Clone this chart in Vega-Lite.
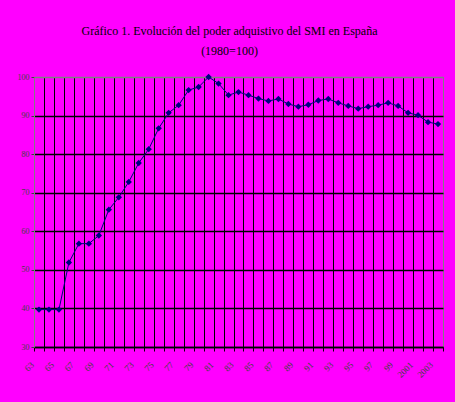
{
  "$schema": "https://vega.github.io/schema/vega-lite/v6.json",
  "width": 409,
  "height": 270,
  "autosize": "none",
  "padding": {"left": 34, "top": 77, "right": 12, "bottom": 55},
  "background": "#FF00FF",
  "title": {
    "text": ["Gráfico 1. Evolución del poder adquistivo del SMI en España", "(1980=100)"],
    "font": "Liberation Serif",
    "fontSize": 12,
    "fontWeight": "normal",
    "color": "black",
    "lineHeight": 20,
    "anchor": "middle",
    "dx": -9,
    "offset": 15
  },
  "config": {
    "view": {"stroke": "#808080", "strokeWidth": 1},
    "axis": {"labelFont": "Liberation Serif", "labelFontSize": 8, "labelColor": "#404040"}
  },
  "data": {
    "values": [
      {"year": 1963, "index": 39.7},
      {"year": 1964, "index": 39.7},
      {"year": 1965, "index": 39.7},
      {"year": 1966, "index": 51.9},
      {"year": 1967, "index": 56.8},
      {"year": 1968, "index": 56.8},
      {"year": 1969, "index": 58.9},
      {"year": 1970, "index": 65.6},
      {"year": 1971, "index": 68.8},
      {"year": 1972, "index": 72.8},
      {"year": 1973, "index": 77.7},
      {"year": 1974, "index": 81.3},
      {"year": 1975, "index": 86.7},
      {"year": 1976, "index": 90.7},
      {"year": 1977, "index": 92.7},
      {"year": 1978, "index": 96.6},
      {"year": 1979, "index": 97.4},
      {"year": 1980, "index": 100.0},
      {"year": 1981, "index": 98.3},
      {"year": 1982, "index": 95.3},
      {"year": 1983, "index": 96.1},
      {"year": 1984, "index": 95.3},
      {"year": 1985, "index": 94.4},
      {"year": 1986, "index": 93.8},
      {"year": 1987, "index": 94.3},
      {"year": 1988, "index": 93.0},
      {"year": 1989, "index": 92.3},
      {"year": 1990, "index": 92.8},
      {"year": 1991, "index": 93.9},
      {"year": 1992, "index": 94.3},
      {"year": 1993, "index": 93.3},
      {"year": 1994, "index": 92.5},
      {"year": 1995, "index": 91.8},
      {"year": 1996, "index": 92.3},
      {"year": 1997, "index": 92.7},
      {"year": 1998, "index": 93.3},
      {"year": 1999, "index": 92.5},
      {"year": 2000, "index": 90.7},
      {"year": 2001, "index": 90.1},
      {"year": 2002, "index": 88.3},
      {"year": 2003, "index": 87.8}
    ]
  },
  "encoding": {
    "x": {
      "field": "year",
      "type": "quantitative",
      "scale": {"domain": [1962.5, 2003.5], "nice": false, "zero": false},
      "axis": {
        "title": null,
        "values": [1962.5, 1963.5, 1964.5, 1965.5, 1966.5, 1967.5, 1968.5, 1969.5, 1970.5, 1971.5, 1972.5, 1973.5, 1974.5, 1975.5, 1976.5, 1977.5, 1978.5, 1979.5, 1980.5, 1981.5, 1982.5, 1983.5, 1984.5, 1985.5, 1986.5, 1987.5, 1988.5, 1989.5, 1990.5, 1991.5, 1992.5, 1993.5, 1994.5, 1995.5, 1996.5, 1997.5, 1998.5, 1999.5, 2000.5, 2001.5, 2002.5, 2003.5],
        "labelExpr": "(datum.value - 1962.5) % 2 == 0 && datum.value < 2003 ? (datum.value < 2000 ? substring(toString(datum.value + 0.5), 2) : toString(datum.value + 0.5)) : ''",
        "labelAngle": -45,
        "labelAlign": "right",
        "labelBaseline": "middle",
        "labelOverlap": false,
        "labelPadding": 12,
        "labelOffset": -2,
        "labelFontSize": 9,
        "grid": true,
        "gridColor": {"condition": {"test": "datum.value == 1962.5 || datum.value == 2003.5", "value": "#808080"}, "value": "black"},
        "gridWidth": 1,
        "domainColor": "black",
        "domainWidth": 1.5,
        "tickColor": "black",
        "tickSize": 4
      }
    },
    "y": {
      "field": "index",
      "type": "quantitative",
      "scale": {"domain": [30, 100], "nice": false, "zero": false},
      "axis": {
        "title": null,
        "values": [30, 40, 50, 60, 70, 80, 90, 100],
        "grid": true,
        "gridColor": {"condition": {"test": "datum.value == 100", "value": "#808080"}, "value": "black"},
        "gridWidth": 1.5,
        "domainColor": "#808080",
        "tickColor": "#404040",
        "tickSize": 3,
        "labelPadding": 2
      }
    }
  },
  "layer": [
    {"mark": {"type": "line", "color": "#000080", "strokeWidth": 1}},
    {"mark": {"type": "point", "shape": "diamond", "filled": true, "color": "#000080", "size": 40, "opacity": 1}}
  ]
}
